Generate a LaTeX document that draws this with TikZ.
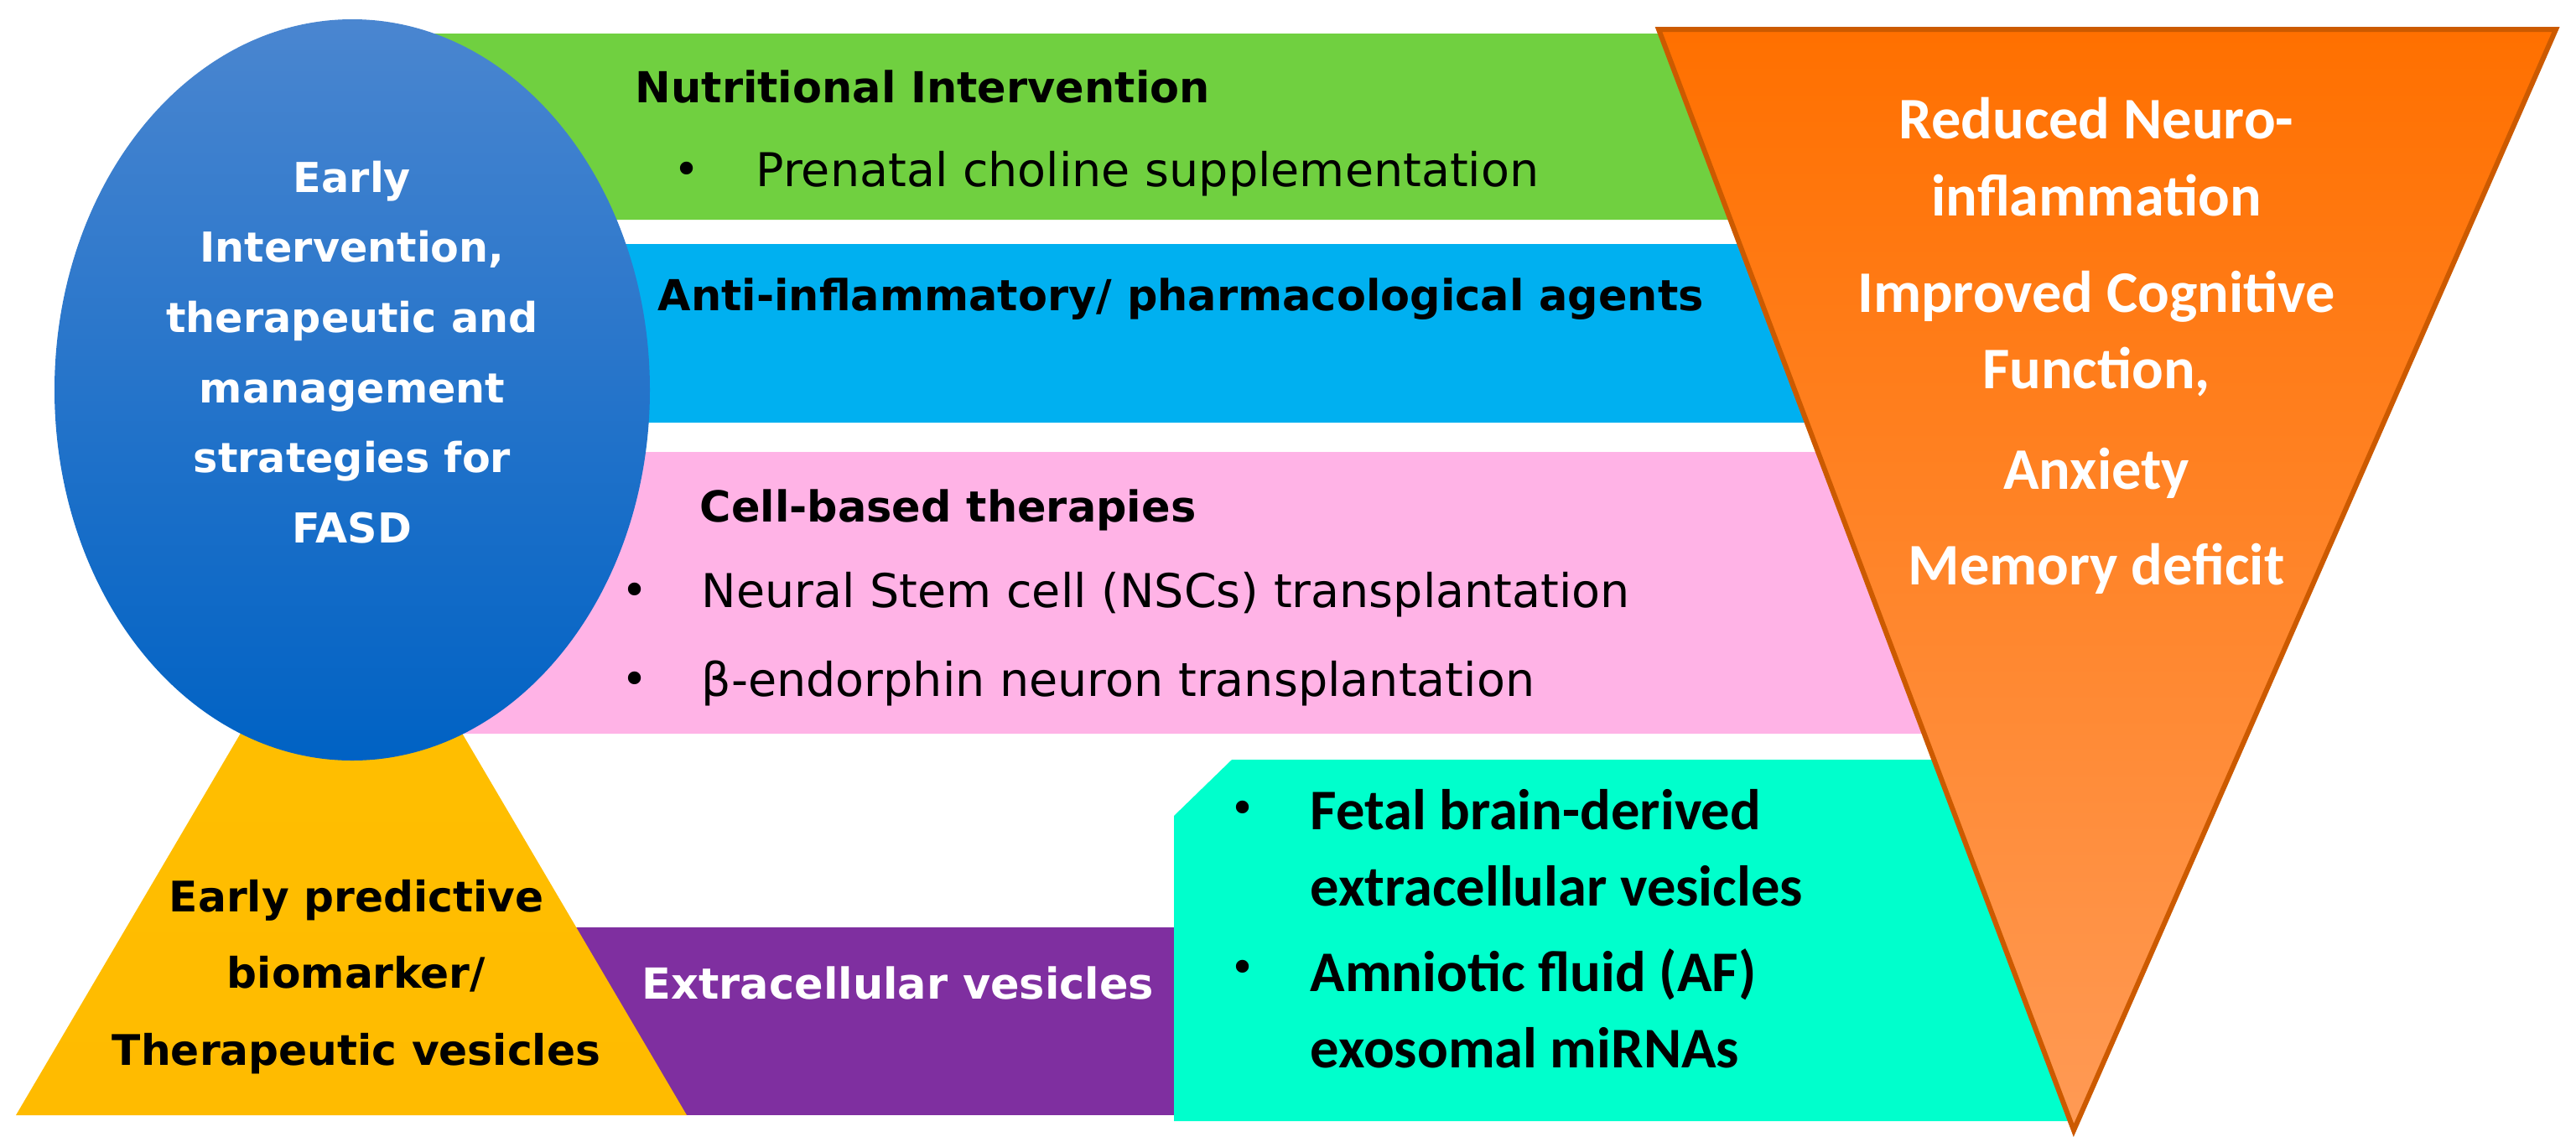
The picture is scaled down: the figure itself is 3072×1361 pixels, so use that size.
\documentclass[tikz,border=0pt]{standalone}
\usepackage{fontspec}
\setmainfont{DejaVu Sans}
\newfontfamily\calfont{Carlito}
\usetikzlibrary{positioning}
\definecolor{bandgreen}{HTML}{70D040}
\definecolor{bandblue}{HTML}{00B0F0}
\definecolor{bandpink}{HTML}{FFB3E6}
\definecolor{bandteal}{HTML}{00FFCC}
\definecolor{bandpurple}{HTML}{7F2FA0}
\definecolor{pyryellow}{HTML}{FFC000}
\definecolor{coretop}{HTML}{4A86D0}
\definecolor{corebot}{HTML}{0062C4}
\definecolor{outtop}{HTML}{FF7000}
\definecolor{outbot}{HTML}{FF9A55}
\begin{document}
\begin{tikzpicture}[x=0.1mm,y=-0.1mm,
    vd/.style={font=\fontsize{15.8}{18}\selectfont, anchor=west, inner sep=0pt},
    vdb/.style={vd, font=\fontsize{14.5}{18}\selectfont\bfseries},
    cb/.style={font=\calfont\fontsize{19.5}{26}\selectfont\bfseries, inner sep=0pt},
    ob/.style={font=\calfont\fontsize{20}{26}\selectfont\bfseries, inner sep=0pt, text=white, align=center},
    dot/.style={font=\fontsize{15}{18}\selectfont, inner sep=0pt}]
    \useasboundingbox (0,0) rectangle (3072,1361);

    % horizontal bands (right ends follow the orange triangle)
    \fill[bandgreen]  (400,40)   -- (1980,40)  -- (2064,262)  -- (400,262)  -- cycle;
    \fill[bandblue]   (400,291)  -- (2075,291) -- (2155,504)  -- (400,504)  -- cycle;
    \fill[bandpink]   (400,539)  -- (2168,539) -- (2295,875)  -- (400,875)  -- cycle;
    \fill[bandpurple] (500,1106) -- (1500,1106) -- (1500,1330) -- (500,1330) -- cycle;
    \fill[bandteal]   (1469,906) -- (2306,906) -- (2469,1337) -- (1400,1337) -- (1400,973) -- cycle;

    % outcome triangle
    \shade[top color=outtop, bottom color=outbot, draw=outtop!80!black, line width=0.6mm]
        (1978,35) -- (3048,35) -- (2473,1348) -- cycle;

    % biomarker triangle and central ellipse
    \shade[top color=pyryellow, bottom color=pyryellow!92!orange] (419,650) -- (819,1330) -- (19,1330) -- cycle;
    \shade[top color=coretop, bottom color=corebot]
        (420,465) ellipse [x radius=355, y radius=442];

    % centre text
    \node[text=white, align=center, font=\fontsize{14}{23.8}\selectfont\bfseries] (core) at (420,420)
        {Early\\Intervention,\\therapeutic and\\management\\strategies for\\FASD};

    % band texts
    \node[vdb] (nutri) at (757,103) {Nutritional Intervention};
    \node[dot] (b1) at (819,207) {•};
    \node[vd] (choline) at (901,207) {Prenatal choline supplementation};
    \node[vdb] (anti) at (784,357) {Anti-inflammatory/ pharmacological agents};
    \node[vdb] (cell) at (834,608) {Cell-based therapies};
    \node[dot] (b2) at (757,709) {•};
    \node[vd] (nsc) at (836,709) {Neural Stem cell (NSCs) transplantation};
    \node[dot] (b3) at (757,815) {•};
    \node[vd] (beta) at (836,815) {β-endorphin neuron transplantation};
    \node[vdb, text=white] (ev) at (765,1172) {Extracellular vesicles};

    % yellow triangle text
    \node[align=center, font=\fontsize{14.3}{26}\selectfont\bfseries] (bio) at (425,1165)
        {Early predictive\\biomarker/\\Therapeutic vesicles};

    % teal texts
    \node[dot] (b4) at (1482,969) {•};
    \node[cb, anchor=west, align=left] (fetal) at (1562,1011) {Fetal brain-derived\\extracellular vesicles};
    \node[dot] (b5) at (1482,1159) {•};
    \node[cb, anchor=west, align=left] (amnio) at (1562,1203) {Amniotic fluid (AF)\\exosomal miRNAs};

    % outcome texts
    \node[ob] (neuro) at (2500,187) {Reduced Neuro-\\inflammation};
    \node[ob] (cogn) at (2500,398) {Improved Cognitive\\Function,};
    \node[ob] (anx) at (2500,564) {Anxiety};
    \node[ob] (mem) at (2500,678) {Memory deficit};
\end{tikzpicture}
\end{document}
